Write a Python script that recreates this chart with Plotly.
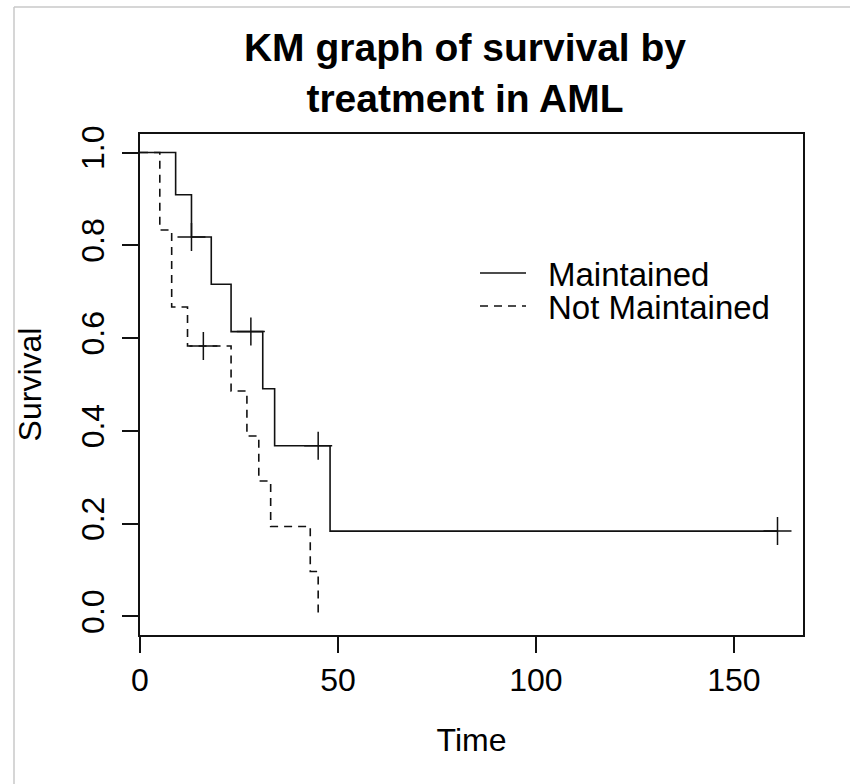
import plotly.graph_objects as go

# Kaplan-Meier step values
maint_time = [0, 9, 13, 18, 23, 31, 34, 48, 161]
maint_surv = [1.0, 0.909, 0.818, 0.716, 0.614, 0.491, 0.368, 0.184, 0.184]
maint_cens_time = [13, 28, 45, 161]
maint_cens_surv = [0.818, 0.614, 0.368, 0.184]

nonm_time = [0, 5, 8, 12, 23, 27, 30, 33, 43, 45]
nonm_surv = [1.0, 0.833, 0.667, 0.583, 0.486, 0.389, 0.292, 0.194, 0.097, 0.0]
nonm_cens_time = [16]
nonm_cens_surv = [0.583]

legend_labels = ["Maintained", "Not Maintained"]
x_ticks = [0, 50, 100, 150]
y_ticks = [0.0, 0.2, 0.4, 0.6, 0.8, 1.0]

FONT = "Liberation Sans, Arial, Helvetica, sans-serif"
W, H = 850, 784
ML, MR, MT, MB = 140, 47, 134, 149
PW, PH = W - ML - MR, H - MT - MB

def px(x):
    return (x - ML) / PW

def py(y):
    return (H - MB - y) / PH

fig = go.Figure()
fig.add_trace(go.Scatter(x=maint_time, y=maint_surv, mode="lines", line_shape="hv",
                         line=dict(color="#111", width=1.6), name=legend_labels[0], showlegend=False))
fig.add_trace(go.Scatter(x=nonm_time, y=nonm_surv, mode="lines", line_shape="hv",
                         line=dict(color="#111", width=1.6, dash="8px,6px"), name=legend_labels[1], showlegend=False))
fig.add_trace(go.Scatter(x=maint_cens_time, y=maint_cens_surv, mode="markers",
                         marker=dict(symbol="cross-thin", size=20, line=dict(color="#111", width=1.5)),
                         showlegend=False, hoverinfo="skip"))
fig.add_trace(go.Scatter(x=nonm_cens_time, y=nonm_cens_surv, mode="markers",
                         marker=dict(symbol="cross-thin", size=20, line=dict(color="#111", width=1.5)),
                         showlegend=False, hoverinfo="skip"))

shapes = [
    # outer light-grey border lines (top and left)
    dict(type="line", xref="paper", yref="paper", x0=px(14), x1=px(850), y0=py(7), y1=py(7),
         line=dict(color="#c8c8c8", width=1.5)),
    dict(type="line", xref="paper", yref="paper", x0=px(14), x1=px(14), y0=py(7), y1=py(784),
         line=dict(color="#c8c8c8", width=1.5)),
    # legend samples
    dict(type="line", xref="paper", yref="paper", x0=px(480), x1=px(526), y0=py(273), y1=py(273),
         line=dict(color="#111", width=1.6)),
    dict(type="line", xref="paper", yref="paper", x0=px(480), x1=px(526), y0=py(306), y1=py(306),
         line=dict(color="#111", width=1.6, dash="8px,6px")),
]
annotations = [
    dict(text=legend_labels[0], xref="paper", yref="paper", x=px(546), y=py(274),
         xanchor="left", yanchor="middle", showarrow=False, font=dict(size=33, color="#000", family=FONT)),
    dict(text=legend_labels[1], xref="paper", yref="paper", x=px(546), y=py(307),
         xanchor="left", yanchor="middle", showarrow=False, font=dict(size=33, color="#000", family=FONT)),
]

fig.update_layout(
    width=W, height=H,
    margin=dict(l=ML, r=MR, t=MT, b=MB, autoexpand=False),
    paper_bgcolor="white", plot_bgcolor="white",
    font=dict(family=FONT, size=32, color="#000"),
    title=dict(text="<b>KM graph of survival by<br>treatment in AML</b>",
               xref="container", x=465 / W, xanchor="center", y=1 - 61 / H, yanchor="top",
               font=dict(size=39, family=FONT, color="#000")),
    shapes=shapes, annotations=annotations,
    xaxis=dict(range=[0, 167.44], tickvals=x_ticks, ticktext=[str(v) for v in x_ticks],
               showgrid=False, zeroline=False, showline=True, mirror=True, linecolor="#111", linewidth=1.5,
               ticks="outside", ticklen=16, tickwidth=1.5, tickcolor="#111",
               tickfont=dict(size=32, family=FONT), ticklabelstandoff=0,
               title=dict(text="Time", font=dict(size=32, family=FONT), standoff=31)),
    yaxis=dict(range=[-0.04, 1.04], tickvals=y_ticks, ticktext=[f"{v:.1f}" for v in y_ticks],
               tickangle=-90,
               showgrid=False, zeroline=False, showline=True, mirror=True, linecolor="#111", linewidth=1.5,
               ticks="outside", ticklen=16, tickwidth=1.5, tickcolor="#111",
               tickfont=dict(size=32, family=FONT), ticklabelstandoff=5,
               title=dict(text="Survival", font=dict(size=32, family=FONT), standoff=24)),
)

fig.write_html("out.html")
